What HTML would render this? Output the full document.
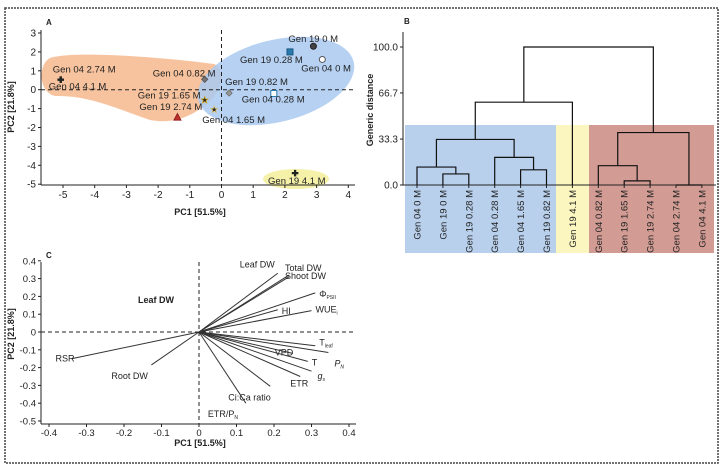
<!DOCTYPE html>
<html><head><meta charset="utf-8"><style>
body{margin:0;background:#fff;}
svg{display:block;font-family:"Liberation Sans",sans-serif;}
text{fill:#222;}
</style></head><body>
<svg id="fig" width="727" height="467" viewBox="0 0 727 467">
<rect x="5" y="8" width="713" height="455" fill="none" stroke="#444" stroke-width="1.5" stroke-dasharray="2,1"/>
<g id="pA"></g>
<g id="pB"></g>
<g id="pC"></g>
</svg>
<script>
// ---- Panel A data ----
const scoreLabels=["Gen 19 0 M","Gen 19 0.28 M","Gen 04 0 M","Gen 04 0.82 M","Gen 19 0.82 M","Gen 04 0.28 M","Gen 19 1.65 M","Gen 04 1.65 M","Gen 19 2.74 M","Gen 04 2.74 M","Gen 04 4.1 M","Gen 19 4.1 M"];
const scorePC1=[2.9,2.16,3.18,-0.53,0.24,1.65,-0.53,-0.23,-1.39,-5.07,-5.07,2.32];
const scorePC2=[2.3,2.0,1.6,0.55,-0.18,-0.2,-0.53,-1.02,-1.45,0.55,0.55,-4.4];
const aXTicks=[-5,-4,-3,-2,-1,0,1,2,3,4];
const aYTicks=[3,2,1,0,-1,-2,-3,-4,-5];
// ---- Panel B data ----
const leafLabels=["Gen 04 0 M","Gen 19 0 M","Gen 19 0.28 M","Gen 04 0.28 M","Gen 04 1.65 M","Gen 19 0.82 M","Gen 19 4.1 M","Gen 04 0.82 M","Gen 19 1.65 M","Gen 19 2.74 M","Gen 04 2.74 M","Gen 04 4.1 M"];
// merges: nodes 0-11 leaves, merge k creates node 12+k
const mergeLeft=[1,4,0,3,14,16,8,7,10,19,17];
const mergeRight=[2,5,12,13,15,6,9,18,11,20,21];
const mergeHeight=[8,11,13,20,33,60,3,14,0,38,100];
const bYTicks=[0,33.3,66.7,100];
// ---- Panel C data ----
const loadNames=["Leaf DW","Total DW","Shoot DW","ΦPSII","HI","WUEi","Tleaf","PN","VPD","T","gs","ETR","Ci:Ca ratio","ETR/PN","RSR","Root DW"];
const loadPC1=[0.21,0.24,0.24,0.31,0.21,0.30,0.31,0.345,0.25,0.29,0.30,0.27,0.19,0.125,-0.34,-0.127];
const loadPC2=[0.33,0.32,0.31,0.22,0.125,0.12,-0.077,-0.115,-0.12,-0.165,-0.22,-0.25,-0.305,-0.40,-0.15,-0.185];
const cXTicks=[-0.4,-0.3,-0.2,-0.1,0,0.1,0.2,0.3,0.4];
const cYTicks=[0.4,0.3,0.2,0.1,0,-0.1,-0.2,-0.3,-0.4,-0.5];

const NS="http://www.w3.org/2000/svg";
function el(parent,tag,attrs,txt){const e=document.createElementNS(NS,tag);for(const k in attrs)e.setAttribute(k,attrs[k]);if(txt!==undefined)e.textContent=txt;parent.appendChild(e);return e;}

// ===== Panel A =====
const A=document.getElementById('pA');
const ax=v=>221.5+v*31.7, ay=v=>89.7-v*18.9;
let e;
e=el(A,'path',{d:'M50,58 C75,50 170,58 214,64 C228,70 220,96 205,105 C190,118 170,124 150,120 C120,110 90,95 55,96 C38,92 38,64 50,58 Z',fill:'#f6b98d',opacity:0.85});


e=el(A,'ellipse',{cx:276,cy:81,rx:80,ry:41,transform:'rotate(-14 276 81)',fill:'#a9c9f0',opacity:0.85});


e=el(A,'ellipse',{cx:296,cy:179,rx:33,ry:10,fill:'#f4f0a0',opacity:0.9});


el(A,'text',{x:46,y:25,'font-size':8,'font-weight':'bold'},'A');
el(A,'line',{x1:41,y1:30,x2:41,y2:185,stroke:'#222'});
el(A,'line',{x1:41,y1:185,x2:355,y2:185,stroke:'#222'});
el(A,'line',{x1:41,y1:ay(0),x2:355,y2:ay(0),stroke:'#222','stroke-dasharray':'4,3'});
el(A,'line',{x1:ax(0),y1:30,x2:ax(0),y2:185,stroke:'#222','stroke-dasharray':'4,3'});
aXTicks.forEach(t=>{el(A,'line',{x1:ax(t),y1:185,x2:ax(t),y2:188,stroke:'#222'});e=el(A,'text',{x:ax(t),y:198,'font-size':10,'text-anchor':'middle'},String(t));

});
aYTicks.forEach(t=>{el(A,'line',{x1:38,y1:ay(t),x2:41,y2:ay(t),stroke:'#222'});e=el(A,'text',{x:36,y:ay(t)+3.5,'font-size':10,'text-anchor':'end'},String(t));

});
e=el(A,'text',{x:200,y:215,'font-size':9,'font-weight':'bold','text-anchor':'middle'},'PC1 [51.5%]');


e=el(A,'text',{x:0,y:0,'font-size':9,'font-weight':'bold','text-anchor':'middle',transform:'translate(14 107) rotate(-90)'},'PC2 [21.8%]');


const markStyle=[['circle','#444','#222'],['rect','#2a7ab0','#1a5a80'],['circle','#fff','#555'],['diamond','#777','#555'],['diamond','#999','#777'],['rect','#fff','#2a7ab0'],['star','#f0c020','#d0a000'],['star','#fff','#e0c060'],['tri','#c0302a','#902020'],['cross','#c03030','#222'],['cross','#c03030','#222'],['cross','#fff','#222']];
const labOff=[[-25,-4],[-50,11],[-21,12],[-52,-3],[-4,-8],[-32,9],[-67,-1],[-12,14],[-38,-7],[-8,-7],[-12,10],[-27,11]];
scorePC1.forEach((v,i)=>{
 const x=ax(v),y=ay(scorePC2[i]);const s=markStyle[i];let m;
 if(s[0]==='circle')m=el(A,'circle',{cx:x,cy:y,r:3,fill:s[1],stroke:s[2]});
 else if(s[0]==='rect')m=el(A,'rect',{x:x-3,y:y-3,width:6,height:6,fill:s[1],stroke:s[2]});
 else if(s[0]==='diamond')m=el(A,'path',{d:`M${x},${y-3}L${x+3},${y}L${x},${y+3}L${x-3},${y}Z`,fill:s[1],stroke:s[2]});
 else if(s[0]==='tri')m=el(A,'path',{d:`M${x},${y-3.5}L${x+3.5},${y+3}L${x-3.5},${y+3}Z`,fill:s[1],stroke:s[2]});
 else if(s[0]==='star')m=el(A,'text',{x:x,y:y+3.5,'font-size':9,'text-anchor':'middle',fill:s[1],stroke:s[2],'stroke-width':0.6},'★');
 else m=el(A,'text',{x:x,y:y+3,'font-size':8,'text-anchor':'middle',fill:s[1],stroke:s[2],'stroke-width':0.7},'✚');
 
 
 const t=el(A,'text',{x:x+labOff[i][0],y:y+labOff[i][1],'font-size':9.5},scoreLabels[i]);
 
 
});

// ===== Panel B =====
const B=document.getElementById('pB');
const bx=i=>417+i*25.9, by=v=>185-v*1.38;
[[405,556,'#b8d0ec'],[556,589,'#fbf6c0'],[589,714,'#d29c94']].forEach((r,i)=>{e=el(B,'rect',{x:r[0],y:125,width:r[1]-r[0],height:128,fill:r[2]});

});
el(B,'text',{x:404,y:24,'font-size':8,'font-weight':'bold'},'B');
el(B,'line',{x1:403,y1:32,x2:403,y2:185,stroke:'#222'});
el(B,'line',{x1:403,y1:185,x2:716,y2:185,stroke:'#222'});
bYTicks.forEach(t=>{el(B,'line',{x1:400,y1:by(t),x2:403,y2:by(t),stroke:'#222'});e=el(B,'text',{x:398,y:by(t)+3.5,'font-size':10,'text-anchor':'end'},t.toFixed(1));

});
e=el(B,'text',{x:0,y:0,'font-size':9,'font-weight':'bold','text-anchor':'middle',transform:'translate(373 110) rotate(-90)'},'Generic distance');


const nx=[],nh=[];
leafLabels.forEach((l,i)=>{nx[i]=bx(i);nh[i]=0;
 el(B,'line',{x1:bx(i),y1:185,x2:bx(i),y2:188,stroke:'#222'});
 const t=el(B,'text',{x:0,y:0,'font-size':9.5,'text-anchor':'end',transform:`translate(${bx(i)+3.5} 190) rotate(-90)`},l);
 
 });
mergeLeft.forEach((a,k)=>{const b=mergeRight[k],h=mergeHeight[k];const y=by(h);
 const p=el(B,'path',{d:`M${nx[a]},${by(nh[a])}V${y}H${nx[b]}V${by(nh[b])}`,fill:'none',stroke:'#111','stroke-width':1.2});
 
 
 nx[12+k]=(nx[a]+nx[b])/2;nh[12+k]=h;});

// ===== Panel C =====
const C=document.getElementById('pC');
const cx=v=>199+v*375, cy=v=>332-v*178;
el(C,'text',{x:46,y:258,'font-size':8,'font-weight':'bold'},'C');
el(C,'line',{x1:41,y1:262,x2:41,y2:424,stroke:'#222'});
el(C,'line',{x1:41,y1:424,x2:356,y2:424,stroke:'#222'});
el(C,'line',{x1:41,y1:cy(0),x2:356,y2:cy(0),stroke:'#222','stroke-dasharray':'4,3'});
el(C,'line',{x1:cx(0),y1:262,x2:cx(0),y2:424,stroke:'#222','stroke-dasharray':'4,3'});
cXTicks.forEach(t=>{el(C,'line',{x1:cx(t),y1:424,x2:cx(t),y2:427,stroke:'#222'});e=el(C,'text',{x:cx(t),y:436,'font-size':9.5,'text-anchor':'middle'},String(t));

});
cYTicks.forEach(t=>{el(C,'line',{x1:38,y1:cy(t),x2:41,y2:cy(t),stroke:'#222'});e=el(C,'text',{x:36,y:cy(t)+3.5,'font-size':9.5,'text-anchor':'end'},String(t));

});
e=el(C,'text',{x:200,y:446,'font-size':9,'font-weight':'bold','text-anchor':'middle'},'PC1 [51.5%]');


e=el(C,'text',{x:0,y:0,'font-size':9,'font-weight':'bold','text-anchor':'middle',transform:'translate(14 334) rotate(-90)'},'PC2 [21.8%]');


e=el(C,'text',{x:138,y:303,'font-size':9,'font-weight':'bold'},'Leaf DW');


const lOff=[[-38,-6],[-4,-4],[-4,2],[4,4],[4,4],[4,2],[4,0],[6,14],[-18,2],[4,4],[6,8],[-10,10],[-42,14],[-38,14],[-16,3],[-40,14]];
const disp=["Leaf DW","Total DW","Shoot DW","Φ","HI","WUE","T","P","VPD","T","g","ETR","Ci:Ca ratio","ETR/P","RSR","Root DW"];
const subs=["","","","PSII","","i","leaf","N","","","s","","","N","",""];
loadPC1.forEach((v,i)=>{
 const x2=cx(v),y2=cy(loadPC2[i]);
 const l=el(C,'line',{x1:cx(0),y1:cy(0),x2:x2,y2:y2,stroke:'#333','stroke-width':1});
 
 
 const t=el(C,'text',{x:x2+lOff[i][0],y:y2+lOff[i][1],'font-size':9,'font-style':(disp[i]==='P'||disp[i]==='g')?'italic':'normal',fill:disp[i]==='HI'?'#b08030':'#222'},disp[i]);
 if(subs[i]){el(t,'tspan',{'font-size':5,dy:2},subs[i]);}
 
 
});
</script>
</body></html>
